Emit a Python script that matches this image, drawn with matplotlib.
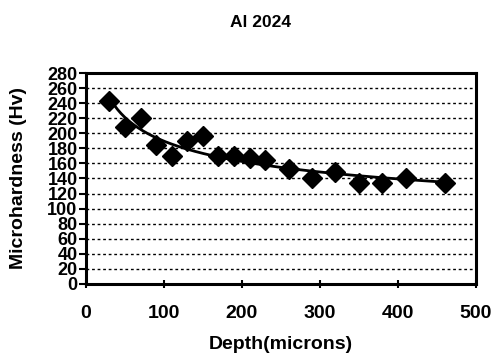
import numpy as np
import matplotlib.pyplot as plt

depth = [30, 50, 70, 90, 110, 130, 150, 170, 190, 210, 230, 260, 290, 320, 350, 380, 410, 460]
hardness = [243, 208, 220, 185, 170, 190, 196, 170, 170, 167, 164, 153, 141, 149, 134, 134, 141, 134]

plt.rcParams['font.family'] = ['Liberation Sans', 'DejaVu Sans']
plt.rcParams['font.weight'] = 'bold'

fig = plt.figure(figsize=(4.91, 3.58), dpi=100)
ax = fig.add_axes([0.175, 0.207, 0.794, 0.589])

# power trendline fitted on the points
b, loga = np.polyfit(np.log(depth), np.log(hardness), 1)
xs = np.linspace(min(depth), max(depth), 200)
ax.plot(xs, np.exp(loga) * xs ** b, color='black', lw=2)
ax.plot(depth, hardness, 'D', color='black', ms=10)

ax.set_xlim(0, 500)
ax.set_ylim(0, 280)
ax.set_xticks(range(0, 501, 100))
ax.set_yticks(range(0, 281, 20))
ax.yaxis.grid(True, linestyle=(0, (2, 2)), color='black', lw=1.0)
ax.set_axisbelow(True)
for s in ax.spines.values():
    s.set_linewidth(2.2)
ax.tick_params(axis='y', direction='out', length=5, width=1.5, labelsize=13, pad=1)
ax.tick_params(axis='x', direction='inout', length=6, width=1.5, labelsize=14, pad=12)
for lab in ax.get_xticklabels() + ax.get_yticklabels():
    lab.set_fontweight('bold')

ax.set_xlabel('Depth(microns)', fontsize=14, fontweight='bold')
ax.set_ylabel('Microhardness (Hv)', fontsize=14, fontweight='bold')
ax.xaxis.set_label_coords(0.5, -0.245)
ax.yaxis.set_label_coords(-0.15, 0.5)
fig.text(0.53, 0.938, 'Al 2024', ha='center', va='center', fontsize=12.5, fontweight='bold')

fig.savefig('out.png', dpi=100)
